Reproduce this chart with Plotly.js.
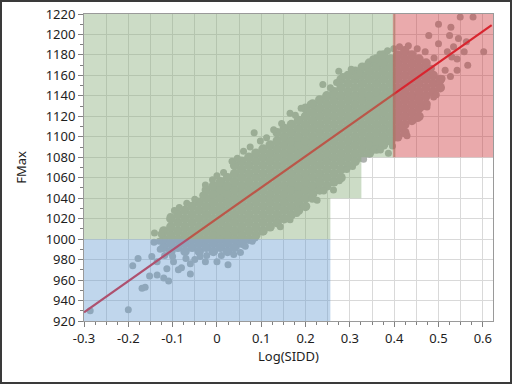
<!DOCTYPE html>
<html>
<head>
<meta charset="utf-8">
<script src="https://cdn.plot.ly/plotly-3.0.1.min.js"></script>
<style>
  html, body { margin: 0; padding: 0; background: #ffffff; }
  #wrap { position: absolute; left: 0; top: 0; width: 508px; height: 380px; border: 2px solid #3a3a3a; background: #fff; }
  #plot { width: 508px; height: 380px; }
</style>
</head>
<body>
<div id="wrap"><div id="plot"></div></div>
<script>
// ---- data (Log(SIDD) vs FMax) ----
// dense core of the point cloud, column by column
const coreSidd = [
  -0.12,-0.12,-0.12,
  -0.104,-0.104,-0.104,-0.104,-0.104,
  -0.088,-0.088,-0.088,-0.088,-0.088,
  -0.072,-0.072,-0.072,-0.072,-0.072,-0.072,
  -0.056,-0.056,-0.056,-0.056,-0.056,-0.056,
  -0.04,-0.04,-0.04,-0.04,-0.04,-0.04,-0.04,
  -0.024,-0.024,-0.024,-0.024,-0.024,-0.024,-0.024,-0.024,
  -0.008,-0.008,-0.008,-0.008,-0.008,-0.008,-0.008,-0.008,-0.008,
  0.008,0.008,0.008,0.008,0.008,0.008,0.008,0.008,0.008,
  0.024,0.024,0.024,0.024,0.024,0.024,0.024,0.024,0.024,0.024,
  0.04,0.04,0.04,0.04,0.04,0.04,0.04,0.04,0.04,0.04,0.04,
  0.056,0.056,0.056,0.056,0.056,0.056,0.056,0.056,0.056,0.056,0.056,
  0.072,0.072,0.072,0.072,0.072,0.072,0.072,0.072,0.072,0.072,0.072,
  0.088,0.088,0.088,0.088,0.088,0.088,0.088,0.088,0.088,0.088,0.088,
  0.104,0.104,0.104,0.104,0.104,0.104,0.104,0.104,0.104,0.104,0.104,
  0.12,0.12,0.12,0.12,0.12,0.12,0.12,0.12,0.12,0.12,0.12,
  0.136,0.136,0.136,0.136,0.136,0.136,0.136,0.136,0.136,0.136,0.136,0.136,
  0.152,0.152,0.152,0.152,0.152,0.152,0.152,0.152,0.152,0.152,0.152,0.152,
  0.168,0.168,0.168,0.168,0.168,0.168,0.168,0.168,0.168,0.168,0.168,0.168,
  0.184,0.184,0.184,0.184,0.184,0.184,0.184,0.184,0.184,0.184,0.184,0.184,
  0.2,0.2,0.2,0.2,0.2,0.2,0.2,0.2,0.2,0.2,0.2,0.2,0.2,
  0.216,0.216,0.216,0.216,0.216,0.216,0.216,0.216,0.216,0.216,0.216,0.216,
  0.232,0.232,0.232,0.232,0.232,0.232,0.232,0.232,0.232,0.232,0.232,0.232,
  0.248,0.248,0.248,0.248,0.248,0.248,0.248,0.248,0.248,0.248,0.248,0.248,
  0.264,0.264,0.264,0.264,0.264,0.264,0.264,0.264,0.264,0.264,0.264,0.264,
  0.28,0.28,0.28,0.28,0.28,0.28,0.28,0.28,0.28,0.28,0.28,0.28,0.28,
  0.296,0.296,0.296,0.296,0.296,0.296,0.296,0.296,0.296,0.296,0.296,0.296,
  0.312,0.312,0.312,0.312,0.312,0.312,0.312,0.312,0.312,0.312,0.312,0.312,
  0.328,0.328,0.328,0.328,0.328,0.328,0.328,0.328,0.328,0.328,0.328,0.328,
  0.344,0.344,0.344,0.344,0.344,0.344,0.344,0.344,0.344,0.344,0.344,0.344,
  0.36,0.36,0.36,0.36,0.36,0.36,0.36,0.36,0.36,0.36,0.36,0.36,
  0.376,0.376,0.376,0.376,0.376,0.376,0.376,0.376,0.376,0.376,0.376,0.376,
  0.392,0.392,0.392,0.392,0.392,0.392,0.392,0.392,0.392,0.392,0.392,
  0.408,0.408,0.408,0.408,0.408,0.408,0.408,0.408,0.408,0.408,0.408,
  0.424,0.424,0.424,0.424,0.424,0.424,0.424,0.424,0.424,0.424,0.424,
  0.44,0.44,0.44,0.44,0.44,0.44,0.44,0.44,0.44,
  0.456,0.456,0.456,0.456,0.456,0.456,0.456,0.456,
  0.472,0.472,0.472,0.472,0.472,0.472,
  0.488,0.488,0.488,
  0.504,0.504
];
const coreFmax = [
  992,1000,1008,
  988,996,1004,1012,1020,
  992,1000,1008,1016,1024,
  988,996,1004,1012,1020,1028,
  992,1000,1008,1016,1024,1032,
  988,996,1004,1012,1020,1028,1036,
  992,1000,1008,1016,1024,1032,1040,1048,
  988,996,1004,1012,1020,1028,1036,1044,1052,
  992,1000,1008,1016,1024,1032,1040,1048,1056,
  988,996,1004,1012,1020,1028,1036,1044,1052,1060,
  992,1000,1008,1016,1024,1032,1040,1048,1056,1064,1072,
  996,1004,1012,1020,1028,1036,1044,1052,1060,1068,1076,
  1000,1008,1016,1024,1032,1040,1048,1056,1064,1072,1080,
  1004,1012,1020,1028,1036,1044,1052,1060,1068,1076,1084,
  1008,1016,1024,1032,1040,1048,1056,1064,1072,1080,1088,
  1012,1020,1028,1036,1044,1052,1060,1068,1076,1084,1092,
  1016,1024,1032,1040,1048,1056,1064,1072,1080,1088,1096,1104,
  1020,1028,1036,1044,1052,1060,1068,1076,1084,1092,1100,1108,
  1024,1032,1040,1048,1056,1064,1072,1080,1088,1096,1104,1112,
  1028,1036,1044,1052,1060,1068,1076,1084,1092,1100,1108,1116,
  1032,1040,1048,1056,1064,1072,1080,1088,1096,1104,1112,1120,1128,
  1044,1052,1060,1068,1076,1084,1092,1100,1108,1116,1124,1132,
  1048,1056,1064,1072,1080,1088,1096,1104,1112,1120,1128,1136,
  1052,1060,1068,1076,1084,1092,1100,1108,1116,1124,1132,1140,
  1056,1064,1072,1080,1088,1096,1104,1112,1120,1128,1136,1144,
  1060,1068,1076,1084,1092,1100,1108,1116,1124,1132,1140,1148,1156,
  1072,1080,1088,1096,1104,1112,1120,1128,1136,1144,1152,1160,
  1076,1084,1092,1100,1108,1116,1124,1132,1140,1148,1156,1164,
  1080,1088,1096,1104,1112,1120,1128,1136,1144,1152,1160,1168,
  1084,1092,1100,1108,1116,1124,1132,1140,1148,1156,1164,1172,
  1088,1096,1104,1112,1120,1128,1136,1144,1152,1160,1168,1176,
  1092,1100,1108,1116,1124,1132,1140,1148,1156,1164,1172,1180,
  1096,1104,1112,1120,1128,1136,1144,1152,1160,1168,1176,
  1100,1108,1116,1124,1132,1140,1148,1156,1164,1172,1180,
  1104,1112,1120,1128,1136,1144,1152,1160,1168,1176,1184,
  1116,1124,1132,1140,1148,1156,1164,1172,1180,
  1120,1128,1136,1144,1152,1160,1168,1176,
  1132,1140,1148,1156,1164,1172,
  1144,1152,1160,
  1148,1156
];
// scattered / edge points
const outSidd = [
  -0.286,-0.2,-0.169,-0.162,-0.19,-0.178,-0.141,-0.142,-0.147,-0.135,
  -0.152,-0.135,-0.12,-0.109,-0.113,-0.098,-0.087,-0.08,-0.06,-0.06,
  -0.038,-0.026,0.0,0.025,-0.023,0.038,0.053,-0.128,-0.118,-0.1,
  -0.07,-0.05,0.01,0.064,0.08,-0.13,-0.126,-0.105,-0.096,-0.085,
  -0.068,-0.05,-0.032,-0.026,-0.01,0.0,0.015,0.034,0.046,0.06,
  0.075,0.084,0.098,0.112,0.128,0.146,0.165,0.177,0.19,0.211,
  0.239,0.256,0.27,0.275,0.284,0.303,0.314,0.322,0.339,0.352,
  0.368,0.385,0.399,0.086,0.105,0.143,0.165,0.18,0.195,0.215,
  0.226,0.241,0.263,0.276,0.293,0.306,0.331,0.353,0.369,0.387,
  0.396,0.406,0.418,0.429,0.453,0.463,0.474,0.489,0.495,0.504,
  0.508,0.515,0.527,0.542,0.53,0.542,0.566,0.558,0.52,0.602,
  0.534,0.5,0.563,0.545,0.478,0.525,0.528,0.5,0.549,0.578,
  0.412,0.432,0.452,0.47,0.49,0.484
];
const outFmax = [
  930,931,952,953,974,981,1006,997,983,978,
  964,965,962,959,971,978,970,972,966,976,
  983,978,978,975,984,985,987,990,984,983,
  981,980,984,993,998,998,1005,1022,1028,1031,
  1035,1039,1043,1053,1058,1062,1065,1076,1079,1086,
  1090,1104,1096,1099,1107,1113,1123,1121,1128,1132,
  1151,1148,1153,1164,1159,1166,1159,1162,1170,1176,
  1181,1184,1186,1001,1008,1012,1019,1025,1032,1039,
  1038,1047,1048,1057,1068,1071,1078,1087,1087,1084,
  1091,1106,1110,1101,1118,1129,1129,1139,1141,1154,
  1157,1165,1159,1165,1178,1176,1170,1183,1183,1183,
  1188,1191,1193,1196,1199,1199,1207,1210,1217,1217,
  1188,1189,1186,1183,1177,1167
];
// fitted line: FMax = intercept + slope * Log(SIDD)
const fitCoef = [1020.0, 304.9];
const fitRange = [-0.3, 0.62];
// tick labels
const xTickVals = [-0.3, -0.2, -0.1, 0, 0.1, 0.2, 0.3, 0.4, 0.5, 0.6];
const xTickText = ['-0.3', '-0.2', '-0.1', '0', '0.1', '0.2', '0.3', '0.4', '0.5', '0.6'];

// ---- styling ----
const pointColor = '#adb1ae';
const gridColor = '#d9d9d9';
const fills = {
  green: 'rgba(127,168,112,0.4)',
  blue: 'rgba(97,152,207,0.4)',
  red: 'rgba(203,42,48,0.4)'
};
const xr = [-0.3, 0.623];
const yr = [920, 1220];

const traces = [
  { type: 'scatter', mode: 'markers', x: coreSidd, y: coreFmax, xaxis: 'x', yaxis: 'y',
    marker: { color: pointColor, size: 9.5, line: { width: 0 } }, hoverinfo: 'skip' },
  { type: 'scatter', mode: 'markers', x: outSidd, y: outFmax, xaxis: 'x', yaxis: 'y',
    marker: { color: pointColor, size: 7, line: { width: 0 } }, hoverinfo: 'skip' },
  { type: 'scatter', mode: 'lines', x: fitRange, y: fitRange.map(v => fitCoef[0] + fitCoef[1] * v),
    xaxis: 'x2', yaxis: 'y', line: { color: '#e2222f', width: 2.2 }, hoverinfo: 'skip' }
];

const axisFont = { family: 'Noto Sans, Open Sans, sans-serif', size: 13, color: '#1e1e1e' };

const layout = {
  width: 508, height: 380,
  margin: { l: 82, r: 17, t: 12, b: 61 },
  paper_bgcolor: '#ffffff', plot_bgcolor: '#ffffff',
  showlegend: false,
  font: axisFont,
  xaxis: {
    range: xr, tickmode: 'array', tickvals: xTickVals, ticktext: xTickText,
    showgrid: true, gridcolor: gridColor, gridwidth: 1, zeroline: false,
    showline: true, mirror: true, linecolor: '#9a9a9a', linewidth: 1,
    ticks: 'outside', ticklen: 5, tickcolor: '#808080', tickfont: axisFont,
    minor: { tickmode: 'linear', tick0: -0.3, dtick: 0.025, ticks: 'outside', ticklen: 3, tickcolor: '#808080', showgrid: false },
    title: { text: 'Log(SIDD)', font: axisFont, standoff: 6 },
    automargin: false, fixedrange: true
  },
  xaxis2: {
    overlaying: 'x', anchor: 'y', side: 'bottom', range: xr,
    tickmode: 'linear', tick0: -0.3, dtick: 0.05,
    showgrid: true, gridcolor: gridColor, gridwidth: 1,
    showticklabels: false, ticks: '', showline: false, zeroline: false,
    automargin: false, fixedrange: true
  },
  yaxis: {
    range: yr, tickmode: 'linear', tick0: 920, dtick: 20,
    showgrid: true, gridcolor: gridColor, gridwidth: 1, zeroline: false,
    showline: true, mirror: true, linecolor: '#9a9a9a', linewidth: 1,
    ticks: 'outside', ticklen: 5, tickcolor: '#808080', tickfont: axisFont,
    minor: { dtick: 10, ticks: 'outside', ticklen: 3, tickcolor: '#808080', showgrid: false },
    title: { text: 'FMax', font: axisFont, standoff: 16 },
    automargin: false, fixedrange: true
  },
  shapes: [
    { type: 'path', xref: 'x', yref: 'y', layer: 'above', line: { width: 0 }, fillcolor: fills.green,
      path: 'M -0.3,1000 L 0.256,1000 L 0.256,1040 L 0.326,1040 L 0.326,1080 L 0.403,1080 L 0.403,1220 L -0.3,1220 Z' },
    { type: 'rect', xref: 'x', yref: 'y', layer: 'above', line: { width: 0 }, fillcolor: fills.blue,
      x0: -0.3, x1: 0.256, y0: 920, y1: 1000 },
    { type: 'rect', xref: 'x', yref: 'y', layer: 'above', line: { width: 0 }, fillcolor: fills.red,
      x0: 0.397, x1: 0.623, y0: 1080, y1: 1220 }
  ]
};

Plotly.newPlot('plot', traces, layout, { displayModeBar: false, staticPlot: true });
</script>
</body>
</html>
